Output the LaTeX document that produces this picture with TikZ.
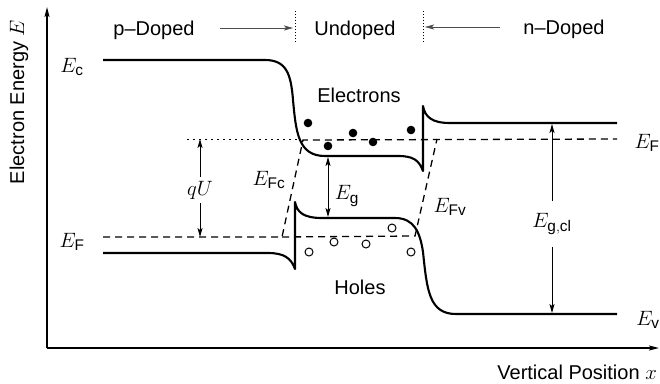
\documentclass[tikz,border=0pt]{standalone}
\usepackage{fontspec}
\setmainfont{Liberation Sans}
\usetikzlibrary{arrows.meta}
\begin{document}
\begin{tikzpicture}[x=1pt,y=-1pt,
  lbl/.style={font=\fontsize{20}{22}\selectfont, inner sep=0pt},
  mlbl/.style={font=\fontsize{22}{24}\selectfont, inner sep=0pt},
  band/.style={line width=2.1pt, line join=round},
  qfermi/.style={line width=1.3pt, dash pattern=on 7pt off 5pt},
  dimarrow/.style={line width=0.8pt, -{Stealth[length=9pt,width=5pt,inset=2pt]}},
  dimboth/.style={line width=0.8pt, {Stealth[length=9pt,width=5pt,inset=2pt]}-{Stealth[length=9pt,width=5pt,inset=2pt]}},
  axis/.style={line width=1.5pt, -{Stealth[length=10pt,width=5pt,inset=2pt]}},
  elec/.style={fill=black, draw=none},
  hole/.style={draw=black, line width=1pt, fill=none},
  regarrow/.style={line width=0.6pt, draw=black!70, -{Stealth[length=9pt,width=5pt,inset=2pt]}},
  regline/.style={line width=1pt, dotted}]
\useasboundingbox (0,0) rectangle (660,383);

% axes
\coordinate (O) at (47,348);
\coordinate (ytop) at (47,7);
\coordinate (xend) at (659,348);
\draw[axis] (O) -- (ytop);
\draw[axis] (O) -- (xend);
\node[lbl, rotate=90] (ylab) at (19,102) {Electron Energy $E$};
\node[lbl, anchor=east] (xlab) at (657,372) {Vertical Position $x$};

% region headers
\node[lbl] (pdop) at (154,30) {p–Doped};
\node[lbl] (undop) at (355,30) {Undoped};
\node[lbl] (ndop) at (564,29) {n–Doped};
\coordinate (b1t) at (295,11);
\coordinate (b1b) at (295,44);
\coordinate (b2t) at (423,11);
\coordinate (b2b) at (423,44);
\draw[regline] (b1t) -- (b1b);
\draw[regline] (b2t) -- (b2b);
\coordinate (pa) at (220,28);
\coordinate (pb) at (293,28);
\coordinate (na) at (500,27);
\coordinate (nb) at (425,27);
\draw[regarrow] (pa) -- (pb);
\draw[regarrow] (na) -- (nb);

% conduction band
\draw[band] (103,60) -- (265,60)
  .. controls (287,60) and (291,75) .. (293,100)
  .. controls (296,132) and (298,156) .. (325,156)
  -- (398,156)
  .. controls (413,156) and (419,160) .. (423,171)
  -- (423,106)
  .. controls (425,117) and (432,123) .. (450,123)
  -- (617,123);

% valence band
\draw[band] (103,253) -- (268,253)
  .. controls (284,253) and (291,258) .. (295,269)
  -- (295,202)
  .. controls (297,212) and (303,218) .. (322,218)
  -- (395,218)
  .. controls (414,218) and (420,232) .. (423,252)
  .. controls (427,290) and (429,314) .. (456,314)
  -- (617,314);

% quasi Fermi levels
\draw[qfermi] (103,237) -- (282,237) -- (303,140) -- (617,139);
\draw[qfermi] (282,237) -- (415,236) -- (437,139);
\draw[line width=1pt, dash pattern=on 2pt off 4pt] (187,139) -- (300,139);

% electrons
\foreach \p in {(308,123),(328,146),(353,133),(373,142),(411,130)}
  \fill[elec] \p circle (4.3);
% holes
\foreach \p in {(309,252),(334,242),(366,244),(392,228),(411,252)}
  \draw[hole] \p circle (4);

% labels
\node[mlbl] (Ec) at (72,67) {$E_{\mathrm{c}}$};
\node[mlbl] (EFl) at (72,242) {$E_{\mathrm{F}}$};
\node[mlbl] (EFr) at (647,143) {$E_{\mathrm{F}}$};
\node[mlbl] (Ev) at (648,320) {$E_{\mathrm{v}}$};
\node[lbl] (elecs) at (359,95) {Electrons};
\node[lbl] (holes) at (360,287) {Holes};
\node[mlbl] (EFc) at (269,180) {$E_{\mathrm{Fc}}$};
\node[mlbl] (EFv) at (450,207) {$E_{\mathrm{Fv}}$};
\node[mlbl] (Eg) at (347,196) {$E_{\mathrm{g}}$};
\node[mlbl] (qU) at (200,190) {$qU$};
\node[mlbl] (Egcl) at (552,224) {$E_{\mathrm{g,cl}}$};

% dimension arrows
\coordinate (qUtop) at (200,139);
\coordinate (qUbot) at (200,237);
\draw[dimarrow] (qU.north) ++(0,-4) -- (qUtop);
\draw[dimarrow] (qU.south) ++(0,4) -- (qUbot);
\coordinate (Egtop) at (328,157);
\coordinate (Egbot) at (328,217);
\draw[dimboth] (Egtop) -- (Egbot);
\coordinate (Eclt) at (552,124);
\coordinate (Eclb) at (552,313);
\draw[dimarrow] (Egcl.north) ++(0,-12) -- (Eclt);
\draw[dimarrow] (Egcl.south) ++(0,12) -- (Eclb);
\end{tikzpicture}
\end{document}
